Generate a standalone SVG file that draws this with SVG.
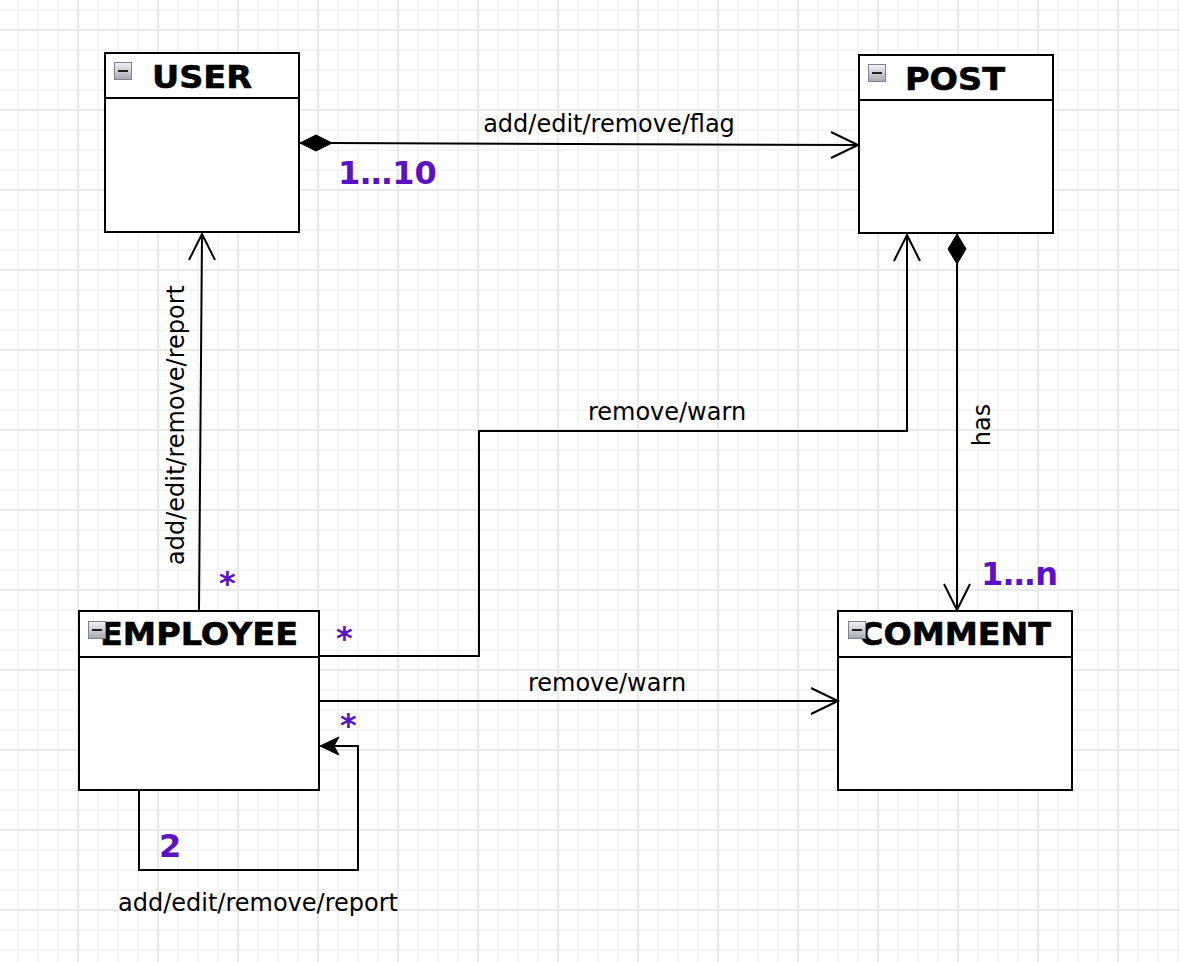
<svg xmlns="http://www.w3.org/2000/svg" width="1180" height="962" viewBox="0 0 1180 962">
  <defs>
    <pattern id="grid" x="77" y="29" width="80" height="80" patternUnits="userSpaceOnUse">
      <g fill="#f5f5f5">
        <rect x="20" y="0" width="2" height="80"/>
        <rect x="40" y="0" width="2" height="80"/>
        <rect x="60" y="0" width="2" height="80"/>
        <rect x="0" y="20" width="80" height="2"/>
        <rect x="0" y="40" width="80" height="2"/>
        <rect x="0" y="60" width="80" height="2"/>
      </g>
      <g fill="#e9e9e9">
        <rect x="0" y="0" width="2" height="80"/>
        <rect x="0" y="0" width="80" height="2"/>
      </g>
    </pattern>
    <linearGradient id="iconFill" x1="0" y1="0" x2="0" y2="1">
      <stop offset="0" stop-color="#f2f2f6"/>
      <stop offset="1" stop-color="#a8a8b4"/>
    </linearGradient>
    <g id="collapse">
      <rect x="0.5" y="0.5" width="17" height="17" fill="url(#iconFill)" stroke="#80808e" stroke-width="1"/>
      <line x1="4" y1="9" x2="14" y2="9" stroke="#222" stroke-width="2"/>
    </g>
  </defs>
  <style>
    .box { fill: #ffffff; stroke: #000000; stroke-width: 2; }
    .div { stroke: #000000; stroke-width: 2; }
    .title { font-family: "DejaVu Sans", Verdana, sans-serif; font-weight: bold; font-size: 32px; fill: #000000; text-anchor: middle; stroke: #000000; stroke-width: 0.6; }
    .lbl { font-family: "DejaVu Sans", Verdana, sans-serif; font-size: 24px; fill: #000000; text-anchor: middle; }
    .mult { font-family: "DejaVu Sans", Verdana, sans-serif; font-weight: bold; font-size: 32px; fill: #5a12c4; }
    .edge { fill: none; stroke: #000000; stroke-width: 2; }
    .open { fill: none; stroke: #000000; stroke-width: 2; }
    .solid { fill: #000000; stroke: #000000; stroke-width: 1; }
  </style>

  <rect x="0" y="0" width="1180" height="962" fill="#ffffff"/>
  <rect x="0" y="0" width="1180" height="962" fill="url(#grid)"/>

  <!-- class boxes -->
  <g id="user">
    <rect class="box" x="105" y="53" width="194" height="179"/>
    <line class="div" x1="105" y1="98" x2="299" y2="98"/>
    <use href="#collapse" x="114" y="62"/>
    <text class="title" x="202" y="88" textLength="100" lengthAdjust="spacingAndGlyphs">USER</text>
  </g>

  <g id="post">
    <rect class="box" x="859" y="55" width="194" height="178"/>
    <line class="div" x1="859" y1="100" x2="1053" y2="100"/>
    <use href="#collapse" x="868" y="64"/>
    <text class="title" x="955" y="90" textLength="100" lengthAdjust="spacingAndGlyphs">POST</text>
  </g>

  <g id="employee">
    <rect class="box" x="79" y="611" width="240" height="179"/>
    <line class="div" x1="79" y1="657" x2="319" y2="657"/>
    <text class="title" x="199" y="645" textLength="198" lengthAdjust="spacingAndGlyphs">EMPLOYEE</text>
    <use href="#collapse" x="88" y="621"/>
  </g>

  <g id="comment">
    <rect class="box" x="838" y="611" width="234" height="179"/>
    <line class="div" x1="838" y1="657" x2="1072" y2="657"/>
    <text class="title" x="955" y="645" textLength="192" lengthAdjust="spacingAndGlyphs">COMMENT</text>
    <use href="#collapse" x="848" y="621"/>
  </g>

  <!-- associations -->
  <g id="connectors">
    <!-- USER to POST: composition -->
    <line class="edge" x1="331" y1="143" x2="857" y2="145"/>
    <polygon class="solid" points="300,143 316,135 332,143 316,151"/>
    <polyline class="open" points="831,132 858,145 831,158"/>
    <text class="lbl" x="609" y="132">add/edit/remove/flag</text>
    <text class="mult" x="338" y="184">1…10</text>

    <!-- EMPLOYEE to USER -->
    <line class="edge" x1="199" y1="611" x2="202" y2="234"/>
    <polyline class="open" points="189,260 202,234 215,260"/>
    <text class="lbl" x="184" y="425" transform="rotate(-90 184 425)">add/edit/remove/report</text>
    <text class="mult" x="219" y="594">*</text>

    <!-- EMPLOYEE to POST -->
    <polyline class="edge" points="319,656 479,656 479,431 907,431 907,235"/>
    <polyline class="open" points="894,261 907,235 920,261"/>
    <text class="lbl" x="667" y="420">remove/warn</text>
    <text class="mult" x="336" y="649">*</text>

    <!-- POST to COMMENT: composition -->
    <line class="edge" x1="957" y1="264" x2="957" y2="610"/>
    <polygon class="solid" points="957,234 966,249 957,264 948,249"/>
    <polyline class="open" points="944,584 957,610 970,584"/>
    <text class="lbl" x="990" y="425" transform="rotate(-90 990 425)">has</text>
    <text class="mult" x="981" y="585">1…n</text>

    <!-- EMPLOYEE to COMMENT -->
    <line class="edge" x1="319" y1="701" x2="837" y2="701"/>
    <polyline class="open" points="811,688 838,701 811,714"/>
    <text class="lbl" x="607" y="691">remove/warn</text>

    <!-- EMPLOYEE self association -->
    <polyline class="edge" points="139,791 139,870 358,870 358,746 334,746"/>
    <polygon class="solid" points="320,746 339,737 334,746 339,755"/>
    <text class="lbl" x="258" y="911">add/edit/remove/report</text>
    <text class="mult" x="340" y="736">*</text>
    <text class="mult" x="159" y="857">2</text>
  </g>
</svg>
